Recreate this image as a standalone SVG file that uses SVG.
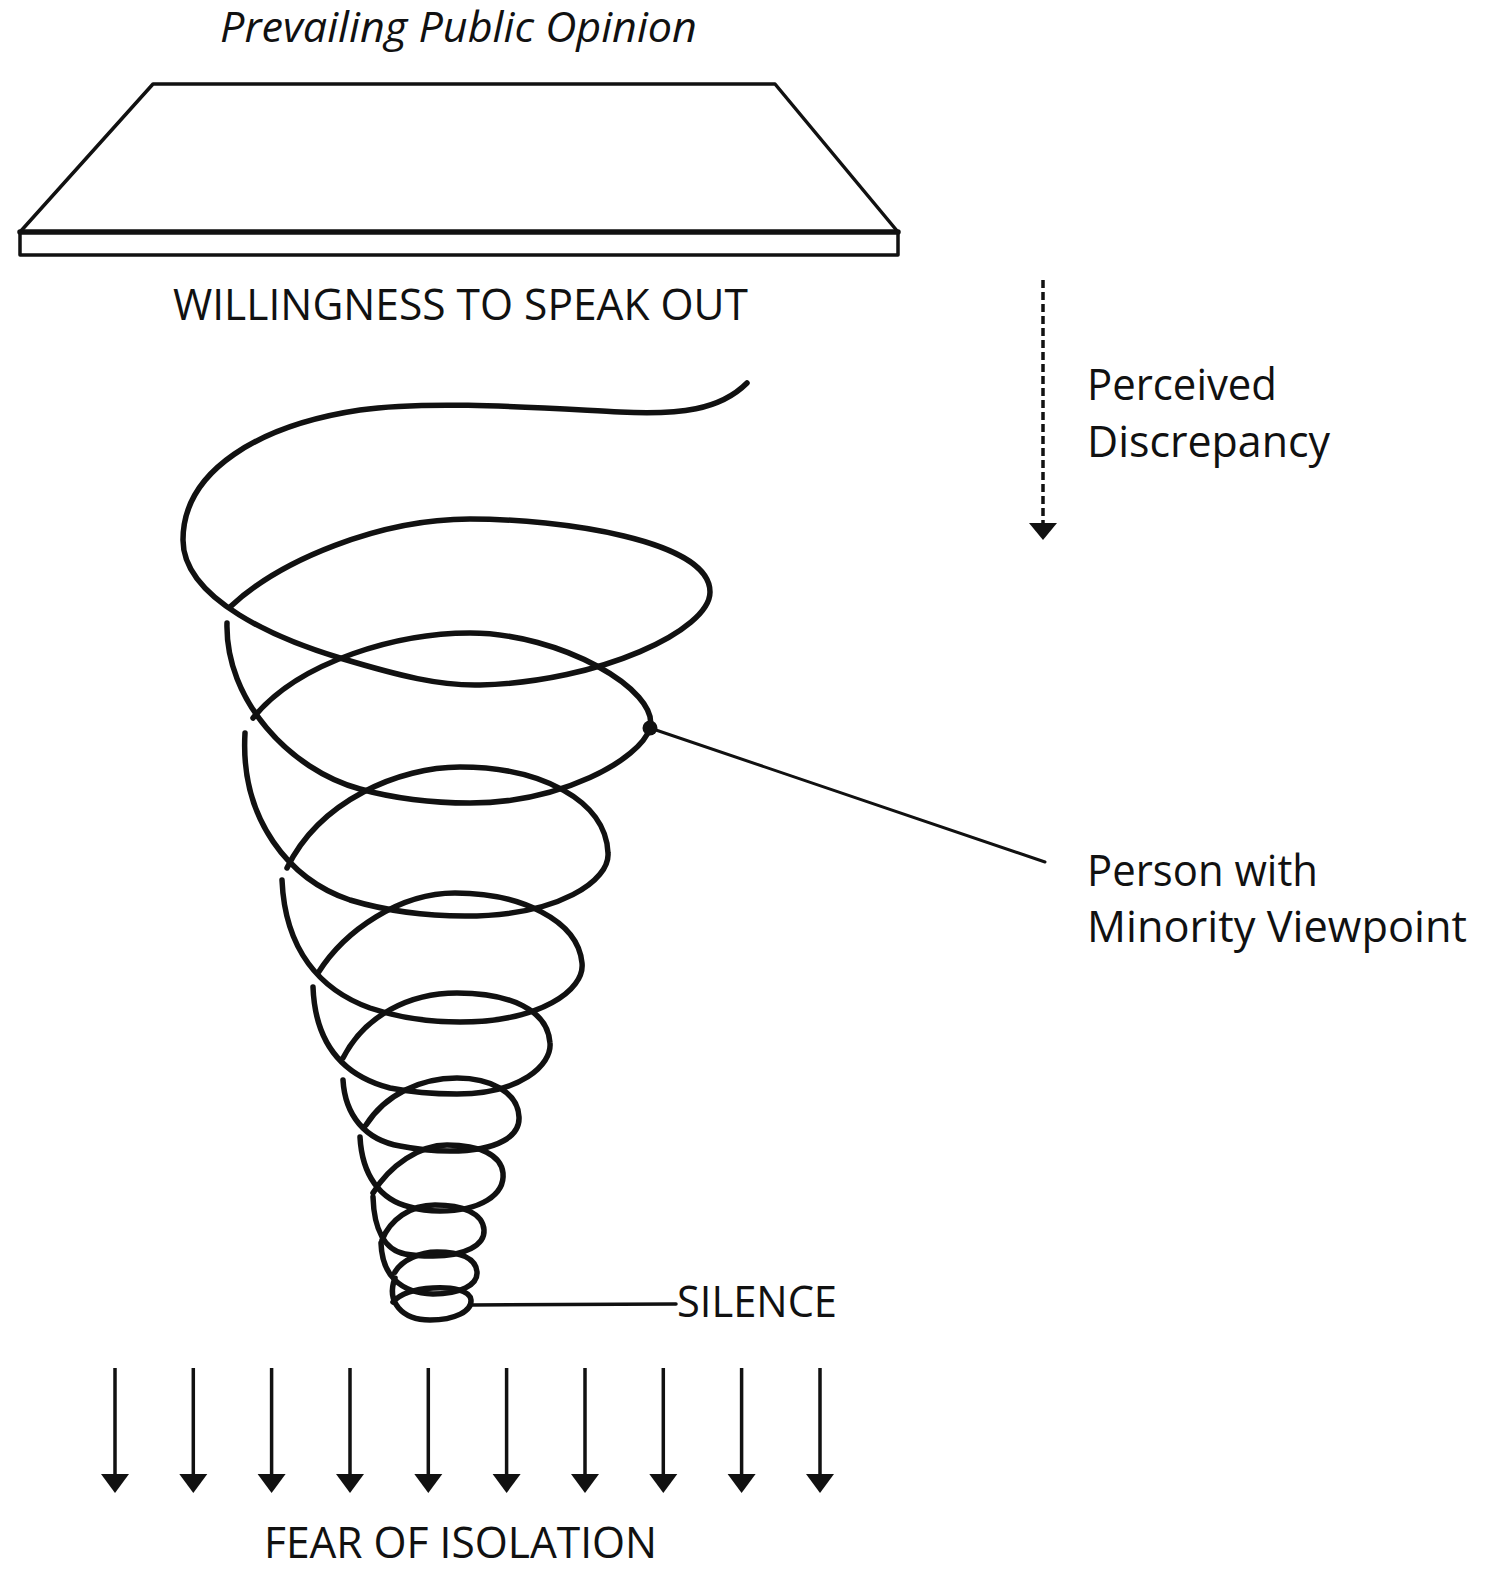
<svg xmlns="http://www.w3.org/2000/svg" width="1489" height="1569" viewBox="0 0 1489 1569">
  <defs>
    <style>
      .lbl { font-family: "Open Sans", "Liberation Sans", sans-serif; font-size: 43px; font-weight: 500; fill: #111; }
      .it { font-style: italic; font-size: 42px; }
      .ln { fill: none; stroke: #111; stroke-linecap: round; stroke-linejoin: round; }
      .spiral { fill: none; stroke: #111; stroke-width: 5.5; stroke-linecap: round; stroke-linejoin: round; }
      .arrow { stroke: #111; stroke-width: 3.5; fill: none; }
      .head { fill: #111; }
    </style>
  </defs>
  <rect width="1489" height="1569" fill="#ffffff"/>

  <g id="public-opinion-label">
    <text class="lbl it" x="220" y="42" textLength="477" lengthAdjust="spacingAndGlyphs">Prevailing Public Opinion</text>
  </g>

  <g id="public-opinion-slab">
    <path class="ln" stroke-width="3.5" d="M153,84 L775,84 L898,232 L20,232 Z"/>
    <rect class="ln" stroke-width="3.5" x="20" y="232" width="878" height="23"/>
    <line class="ln" stroke-width="5.5" x1="20" y1="232" x2="898" y2="232"/>
  </g>

  <g id="willingness-label">
    <text class="lbl" x="173" y="320" font-size="44" textLength="575" lengthAdjust="spacingAndGlyphs">WILLINGNESS TO SPEAK OUT</text>
  </g>

  <g id="perceived-discrepancy">
    <text class="lbl" x="1087" y="400" textLength="190" lengthAdjust="spacingAndGlyphs">Perceived</text>
    <text class="lbl" x="1087" y="457" textLength="243" lengthAdjust="spacingAndGlyphs">Discrepancy</text>
  </g>

  <g id="spiral">
    <path class="spiral" d="M747,383 C720,410 680,415 620,412 C540,408 430,400 360,410 C260,425 183,470 183,540 C183,600 280,640 340,658 C400,676 440,686 480,685 C600,682 710,630 710,592 C710,540 560,519 470,519 C380,519 280,560 230,607"/>
    <path class="spiral" d="M227,623 C225,700 290,770 360,789 C400,800 440,803 470,803 C560,803 640,760 650,728 C660,690 560,633 470,633 C400,633 300,660 253,718"/>
    <path class="spiral" d="M245,733 C240,820 290,880 350,900 C390,912 430,916 465,916 C560,916 610,880 608,853 C606,800 540,767 460,767 C400,767 320,800 287,868"/>
    <path class="spiral" d="M282,880 C285,950 320,990 370,1008 C400,1018 430,1022 460,1022 C540,1022 585,990 582,963 C578,920 520,893 455,893 C400,893 345,930 318,973"/>
    <path class="spiral" d="M313,987 C315,1040 340,1075 390,1088 C415,1093 435,1094 457,1094 C520,1094 552,1065 550,1043 C548,1010 510,993 457,993 C410,993 365,1015 343,1058"/>
    <path class="spiral" d="M343,1080 C345,1115 365,1140 400,1146 C420,1150 435,1151 450,1151 C500,1151 520,1135 519,1117 C518,1092 490,1078 457,1078 C420,1078 385,1095 366,1125"/>
    <path class="spiral" d="M360,1137 C362,1175 380,1200 410,1207 C420,1210 430,1211 440,1211 C480,1211 505,1195 503,1173 C501,1155 480,1145 447,1145 C420,1145 390,1165 373,1193"/>
    <path class="spiral" d="M373,1197 C374,1230 385,1250 405,1254 C415,1256 425,1256 433,1256 C465,1256 485,1245 484,1230 C483,1213 462,1205 435,1205 C410,1205 390,1220 382,1240"/>
    <path class="spiral" d="M381,1243 C382,1275 400,1293 433,1294 C460,1294 478,1285 477,1272 C476,1258 460,1252 437,1252 C420,1252 402,1260 395,1272"/>
    <path class="spiral" d="M395,1278 C386,1302 402,1320 430,1320 C455,1320 472,1311 471,1300 C470,1290 452,1287 433,1288 C415,1289 400,1294 393,1302"/>
  </g>

  <g id="person-dot">
    <circle cx="650" cy="728" r="7.5" fill="#111"/>
  </g>

  <g id="person-label">
    <text class="lbl" x="1087" y="886" textLength="231" lengthAdjust="spacingAndGlyphs">Person with</text>
    <text class="lbl" x="1087" y="942" textLength="380" lengthAdjust="spacingAndGlyphs">Minority Viewpoint</text>
  </g>

  <g id="silence-label">
    <text class="lbl" x="677" y="1317" textLength="160" lengthAdjust="spacingAndGlyphs">SILENCE</text>
  </g>

  <g id="fear-label">
    <text class="lbl" x="264" y="1558" font-size="42" textLength="393" lengthAdjust="spacingAndGlyphs">FEAR OF ISOLATION</text>
  </g>

  <g id="connectors">
    <line class="ln" stroke-width="3" x1="650" y1="728" x2="1045" y2="862"/>
    <line class="ln" stroke-width="3.5" x1="470" y1="1305" x2="676" y2="1304"/>
    <line x1="1043" y1="280" x2="1043" y2="524" stroke="#111" stroke-width="3.5" stroke-dasharray="8 4"/>
    <path class="head" d="M1029,523 L1057,523 L1043,540 Z"/>
    <g class="arrow">
      <line x1="115" y1="1368" x2="115" y2="1476"/>
      <line x1="193.3" y1="1368" x2="193.3" y2="1476"/>
      <line x1="271.6" y1="1368" x2="271.6" y2="1476"/>
      <line x1="350" y1="1368" x2="350" y2="1476"/>
      <line x1="428.3" y1="1368" x2="428.3" y2="1476"/>
      <line x1="506.6" y1="1368" x2="506.6" y2="1476"/>
      <line x1="585" y1="1368" x2="585" y2="1476"/>
      <line x1="663.3" y1="1368" x2="663.3" y2="1476"/>
      <line x1="741.6" y1="1368" x2="741.6" y2="1476"/>
      <line x1="820" y1="1368" x2="820" y2="1476"/>
    </g>
    <g class="head">
      <path d="M101,1474 L129,1474 L115,1493 Z"/>
      <path d="M179.3,1474 L207.3,1474 L193.3,1493 Z"/>
      <path d="M257.6,1474 L285.6,1474 L271.6,1493 Z"/>
      <path d="M336,1474 L364,1474 L350,1493 Z"/>
      <path d="M414.3,1474 L442.3,1474 L428.3,1493 Z"/>
      <path d="M492.6,1474 L520.6,1474 L506.6,1493 Z"/>
      <path d="M571,1474 L599,1474 L585,1493 Z"/>
      <path d="M649.3,1474 L677.3,1474 L663.3,1493 Z"/>
      <path d="M727.6,1474 L755.6,1474 L741.6,1493 Z"/>
      <path d="M806,1474 L834,1474 L820,1493 Z"/>
    </g>
  </g>
</svg>
